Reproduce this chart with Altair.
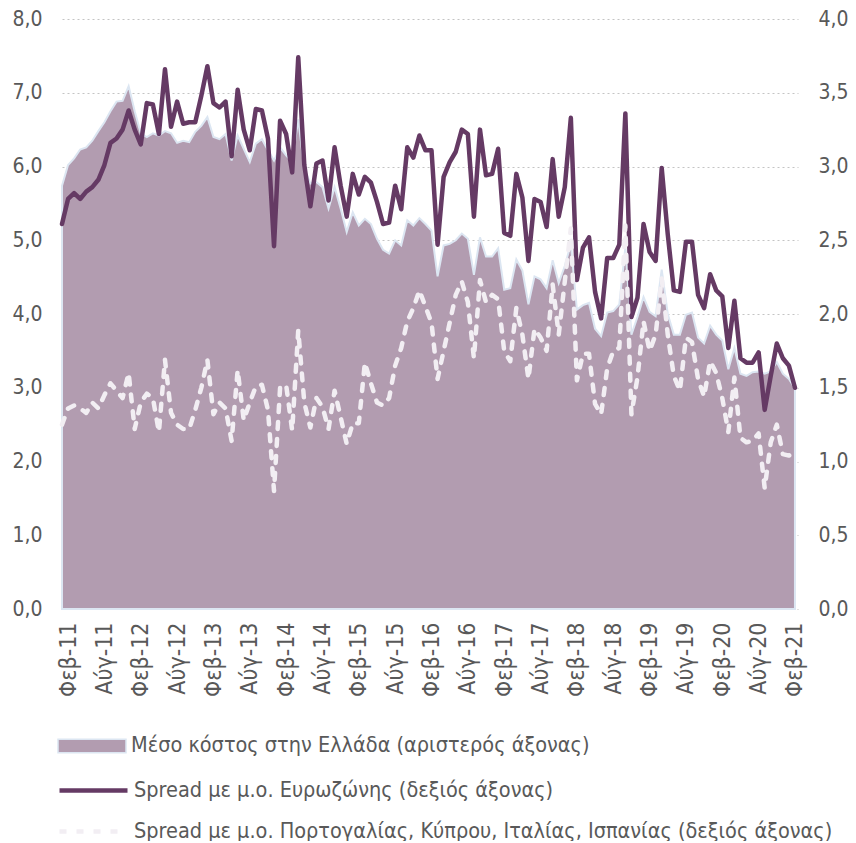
import altair as alt
import pandas as pd

# Monthly index: 0 = Ιαν-11 ... 121 = Φεβ-21
month_index = list(range(122))

tick_labels = ["Φεβ-11", "Αύγ-11", "Φεβ-12", "Αύγ-12", "Φεβ-13", "Αύγ-13", "Φεβ-14",
               "Αύγ-14", "Φεβ-15", "Αύγ-15", "Φεβ-16", "Αύγ-16", "Φεβ-17", "Αύγ-17",
               "Φεβ-18", "Αύγ-18", "Φεβ-19", "Αύγ-19", "Φεβ-20", "Αύγ-20", "Φεβ-21"]
tick_pos = [1, 7, 13, 19, 25, 31, 37, 43, 49, 55, 61, 67, 73, 79, 85, 91, 97, 103, 109, 115, 121]

left_ticks = [0, 1, 2, 3, 4, 5, 6, 7, 8]
right_ticks = [0, 0.5, 1, 1.5, 2, 2.5, 3, 3.5, 4]

names = ["Μέσο κόστος στην Ελλάδα (αριστερός άξονας)",
         "Spread με μ.ο. Ευρωζώνης (δεξιός άξονας)",
         "Spread με μ.ο. Πορτογαλίας, Κύπρου, Ιταλίας, Ισπανίας (δεξιός άξονας)"]

# Average cost in Greece (left axis)
cost_gr = [5.74, 6.02, 6.11, 6.23, 6.26, 6.35, 6.48, 6.60, 6.75, 6.88,
           6.89, 7.09, 6.75, 6.45, 6.40, 6.45, 6.42, 6.48, 6.45, 6.32,
           6.35, 6.33, 6.47, 6.55, 6.67, 6.40, 6.37, 6.44, 6.08, 6.42,
           6.24, 6.06, 6.31, 6.37, 6.22, 6.08, 6.26, 6.15, 6.06, 6.64,
           5.97, 5.77, 5.79, 5.72, 5.43, 5.72, 5.43, 5.11, 5.38, 5.20,
           5.29, 5.22, 5.02, 4.87, 4.82, 5.00, 4.93, 5.27, 5.20, 5.30,
           5.22, 5.13, 4.51, 4.93, 4.95, 5.00, 5.09, 5.02, 4.53, 5.04,
           4.78, 4.78, 4.89, 4.33, 4.35, 4.74, 4.59, 4.13, 4.51, 4.47,
           4.35, 4.73, 4.42, 4.65, 4.95, 4.06, 4.12, 4.15, 3.80, 3.70,
           4.02, 4.04, 4.13, 4.90, 3.72, 3.96, 4.23, 4.03, 3.97, 4.60,
           4.00, 3.72, 3.72, 3.99, 4.02, 3.68, 3.60, 3.84, 3.72, 3.64,
           3.25, 3.54, 3.19, 3.16, 3.21, 3.22, 3.19, 3.22, 3.35, 3.19,
           3.12, 2.99]

# Spread vs euro-area average (right axis)
spread_ez = [2.61, 2.78, 2.82, 2.78, 2.83, 2.86, 2.91, 3.01, 3.16, 3.19,
             3.25, 3.38, 3.25, 3.15, 3.43, 3.42, 3.22, 3.66, 3.27, 3.44,
             3.29, 3.30, 3.30, 3.48, 3.68, 3.43, 3.40, 3.44, 3.07, 3.52,
             3.25, 3.11, 3.39, 3.38, 3.19, 2.46, 3.31, 3.22, 2.96, 3.74,
             3.01, 2.73, 3.02, 3.04, 2.77, 3.13, 2.87, 2.66, 2.95, 2.81,
             2.93, 2.89, 2.76, 2.61, 2.62, 2.87, 2.71, 3.13, 3.06, 3.21,
             3.11, 3.11, 2.47, 2.93, 3.03, 3.10, 3.25, 3.22, 2.66, 3.25,
             2.94, 2.95, 3.12, 2.55, 2.53, 2.95, 2.79, 2.36, 2.78, 2.76,
             2.59, 3.05, 2.66, 2.86, 3.33, 2.23, 2.45, 2.52, 2.15, 1.97,
             2.38, 2.38, 2.47, 3.36, 1.98, 2.11, 2.61, 2.42, 2.36, 2.99,
             2.54, 2.16, 2.15, 2.49, 2.49, 2.13, 2.04, 2.27, 2.16, 2.12,
             1.77, 2.09, 1.70, 1.67, 1.67, 1.74, 1.35, 1.58, 1.80, 1.70,
             1.65, 1.50]

# Spread vs average of Portugal, Cyprus, Italy, Spain (right axis)
spread_per = [1.25, 1.36, 1.38, 1.36, 1.33, 1.40, 1.36, 1.45, 1.53, 1.48,
              1.43, 1.60, 1.22, 1.40, 1.46, 1.43, 1.20, 1.69, 1.33, 1.25,
              1.22, 1.22, 1.35, 1.50, 1.69, 1.32, 1.40, 1.36, 1.14, 1.62,
              1.28, 1.40, 1.51, 1.52, 1.35, 0.80, 1.50, 1.52, 1.21, 1.89,
              1.40, 1.23, 1.43, 1.37, 1.22, 1.48, 1.30, 1.12, 1.26, 1.26,
              1.67, 1.53, 1.40, 1.38, 1.43, 1.65, 1.77, 1.95, 2.04, 2.16,
              2.05, 1.94, 1.56, 1.75, 1.94, 2.13, 2.22, 2.08, 1.70, 2.23,
              2.08, 2.13, 2.10, 1.75, 1.68, 2.04, 1.86, 1.56, 1.90, 1.84,
              1.75, 2.20, 1.86, 2.22, 2.58, 1.55, 1.73, 1.73, 1.39, 1.32,
              1.63, 1.75, 1.77, 2.60, 1.32, 1.57, 1.95, 1.75, 1.86, 2.24,
              1.86, 1.58, 1.48, 1.84, 1.81, 1.56, 1.44, 1.68, 1.60, 1.43,
              1.20, 1.57, 1.16, 1.13, 1.14, 1.19, 0.82, 1.13, 1.25, 1.05,
              1.04, 1.07]

df = pd.DataFrame({
    "m": month_index,
    "cost": cost_gr,
    "ez": spread_ez,
    "per": spread_per,
    "s1": names[0],
    "s2": names[1],
    "s3": names[2],
})

FONT = "'Liberation Sans Narrow', 'DejaVu Sans Condensed', Roboto, sans-serif"
GREY = "#595959"
AREA = "#b29cb0"
AREA_EDGE = "#dce6f2"
DARK = "#653a64"
PALE = "#f2eef3"

label_js = "[" + ",".join("'%s'" % t for t in tick_labels) + "]"
comma_fmt = "replace(format(datum.value, '.1f'), '.', ',')"

x_enc = alt.X(
    "m:Q",
    scale=alt.Scale(domain=[0, 121.5], nice=False, zero=False),
    axis=alt.Axis(values=tick_pos, labelExpr=label_js + "[(datum.value - 1) / 6]",
                  labelAngle=270, labelFontSize=23, labelFont=FONT, labelColor=GREY,
                  labelPadding=13, labelFlush=False, labelOverlap=False,
                  domain=False, ticks=False, grid=False, title=None),
)

right_axis = alt.Axis(orient="right", values=right_ticks, labelExpr=comma_fmt,
                      labelFontSize=21, labelFont=FONT, labelColor=GREY,
                      labelPadding=20, domain=False, ticks=False, grid=False, title=None)
right_scale = alt.Scale(domain=[0, 4], nice=False, zero=True)

leg_common = dict(title=None, orient="none", labelFontSize=21.5, labelFont=FONT,
                  labelColor=GREY, labelLimit=900, labelOffset=4, padding=0,
                  symbolSize=4624)

area = alt.Chart(df).mark_area(stroke=AREA_EDGE, strokeWidth=2, opacity=1).encode(
    x=x_enc,
    y=alt.Y("cost:Q", scale=alt.Scale(domain=[0, 8], nice=False),
            axis=alt.Axis(orient="left", values=left_ticks, labelExpr=comma_fmt,
                          labelFontSize=21, labelFont=FONT, labelColor=GREY,
                          labelPadding=20, domain=False, ticks=False, grid=True,
                          gridDash=[2, 3], gridColor="#c4c4c4", gridWidth=1, title=None)),
    fill=alt.Fill("s1:N", scale=alt.Scale(domain=[names[0]], range=[AREA]),
                  legend=alt.Legend(legendX=-5, legendY=692,
                                    symbolType="M-1,-0.2H1V0.2H-1Z",
                                    symbolStrokeColor=AREA_EDGE, symbolStrokeWidth=1.5,
                                    **leg_common)),
)

line_ez = alt.Chart(df).mark_line(strokeWidth=4.5, strokeJoin="round", strokeCap="round").encode(
    x=x_enc,
    y=alt.Y("ez:Q", scale=right_scale, axis=right_axis),
    stroke=alt.Stroke("s2:N", scale=alt.Scale(domain=[names[1]], range=[DARK]),
                      legend=alt.Legend(legendX=-5, legendY=735, symbolType="stroke",
                                        symbolStrokeWidth=4.5, **leg_common)),
)

line_per = alt.Chart(df).mark_line(strokeWidth=4.5, strokeDash=[7, 10], strokeCap="round",
                                   strokeJoin="round").encode(
    x=x_enc,
    y=alt.Y("per:Q", scale=right_scale, axis=right_axis),
    stroke=alt.Stroke("s3:N", scale=alt.Scale(domain=[names[2]], range=[PALE]),
                      legend=alt.Legend(legendX=-5, legendY=776, symbolType="stroke",
                                        symbolStrokeWidth=4.5, symbolDash=[7, 10],
                                        **leg_common)),
)

lines = alt.layer(line_ez, line_per).resolve_scale(stroke="independent")

chart = alt.layer(area, lines).resolve_scale(y="independent").properties(
    width=736,
    height=590,
    autosize=alt.AutoSizeParams(type="none"),
    padding={"left": 54, "top": 11, "right": 50, "bottom": 232},
).configure_view(strokeWidth=0)

chart.save("out.html", embed_options={"renderer": "svg", "actions": False})
